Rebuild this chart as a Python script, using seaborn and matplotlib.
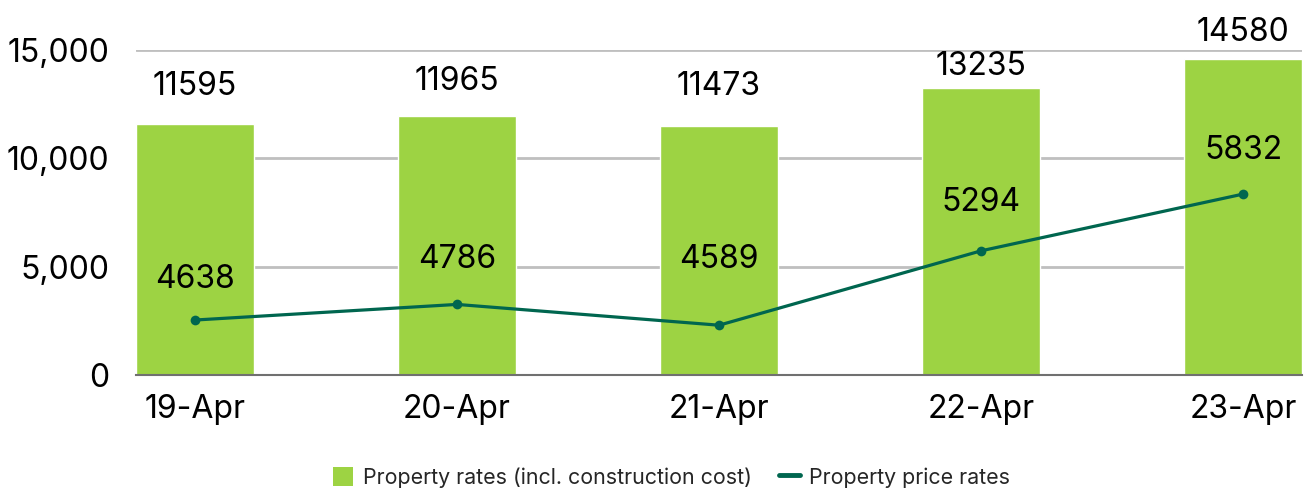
import matplotlib
matplotlib.use("Agg")
import matplotlib.pyplot as plt
import seaborn as sns
import pandas as pd
from matplotlib.patches import Patch
from matplotlib.lines import Line2D
from matplotlib.ticker import FuncFormatter

categories = ["19-Apr", "20-Apr", "21-Apr", "22-Apr", "23-Apr"]
construction_rates = [11595, 11965, 11473, 13235, 14580]
price_rates = [4638, 4786, 4589, 5294, 5832]
bar_name = "Property rates (incl. construction cost)"
line_name = "Property price rates"

df = pd.DataFrame({"date": categories, "bar": construction_rates, "line": price_rates})

sns.set_theme(style="white")
plt.rcParams["font.family"] = ["Inter", "DejaVu Sans"]

BAR_C = "#9dd343"
LINE_C = "#00664f"
FS = 23

fig = plt.figure(figsize=(13.09, 4.90), dpi=100)
ax = fig.add_axes([0.1039, 0.2347, 0.8908, 0.6633])

sns.barplot(data=df, x="date", y="bar", color=BAR_C, width=0.45, saturation=1, ax=ax)
ax.set_xlim(-0.225, 4.225)
ax.set_ylim(0, 15000)
ax.set_yticks([0, 5000, 10000, 15000])
ax.yaxis.set_major_formatter(FuncFormatter(lambda v, p: f"{int(v):,}"))
ax.grid(axis="y", color="#bfbfbf", linewidth=2)
ax.set_axisbelow(True)
for s in ["top", "right", "left"]:
    ax.spines[s].set_visible(False)
ax.spines["bottom"].set_color("#707070")
ax.spines["bottom"].set_linewidth(1.5)
ax.tick_params(axis="both", length=0, labelsize=FS, colors="black")
ax.tick_params(axis="y", pad=19)
ax.tick_params(axis="x", pad=14)
ax.set_xlabel("")
ax.set_ylabel("")

# label offsets (points, to label centre) -- placement only
bar_label_offsets = [26.5, 25, 29, 15.5, 19]
line_label_offsets = [29, 32.5, 47.5, 34.5, 31.5]

for i, (v, off) in enumerate(zip(construction_rates, bar_label_offsets)):
    ax.annotate(f"{v}", (i, v), xytext=(0, off), textcoords="offset points",
                ha="center", va="center", fontsize=FS, color="black")

ax2 = ax.twinx()
sns.lineplot(data=df, x="date", y="line", color=LINE_C, linewidth=2.3,
             marker="o", markersize=7, markeredgewidth=0, ax=ax2, sort=False)
ax2.set_ylim(4117, 7198)
ax2.set_xlim(-0.225, 4.225)
ax2.axis("off")
for i, (v, off) in enumerate(zip(price_rates, line_label_offsets)):
    ax2.annotate(f"{v}", (i, v), xytext=(0, off), textcoords="offset points",
                 ha="center", va="center", fontsize=FS, color="black")

handles = [Patch(facecolor=BAR_C, edgecolor="none"),
           Line2D([0], [0], color=LINE_C, linewidth=3.5)]
fig.legend(handles, [bar_name, line_name], loc="center", bbox_to_anchor=(0.513, 0.026),
           ncol=2, frameon=False, fontsize=15.4, handlelength=0.95, handleheight=1.05,
           handletextpad=0.45, columnspacing=1.3)

fig.savefig("out.png", dpi=100)
